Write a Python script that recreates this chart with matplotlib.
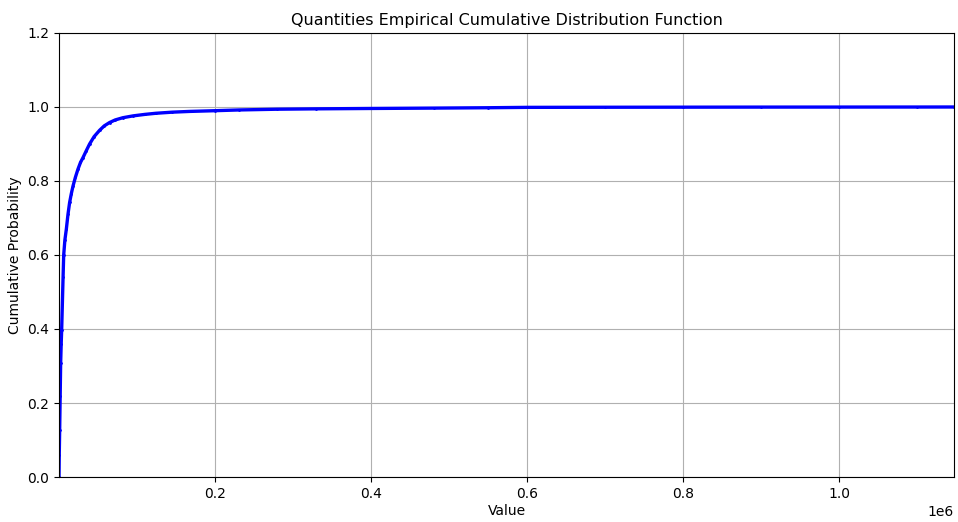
import matplotlib
matplotlib.use("Agg")
import matplotlib.pyplot as plt

# values (value, cumulative probability)
values = [1, 300, 850, 1500, 2100, 2800, 3400, 4300, 5200, 6000, 7500, 9400,
          11500, 13600, 15800, 17900, 21000, 24300, 27500, 30700, 35000, 39200,
          45000, 52000, 58000, 64800, 72000, 81800, 95000, 110000, 124000,
          145000, 167000, 200000, 231000, 280000, 330000, 400000, 480000,
          550000, 600000, 700000, 800000, 900000, 1000000, 1100000, 1147000]
probs = [0.0, 0.06, 0.127, 0.22, 0.307, 0.36, 0.397, 0.469, 0.54, 0.6, 0.64, 0.67,
         0.71, 0.742, 0.766, 0.786, 0.81, 0.832, 0.85, 0.863, 0.882, 0.9,
         0.92, 0.937, 0.949, 0.958, 0.965, 0.971, 0.976, 0.98, 0.983,
         0.986, 0.988, 0.99, 0.992, 0.994, 0.995, 0.996, 0.997,
         0.998, 0.999, 0.9993, 0.9995, 0.9997, 0.9998, 0.9999, 1.0]

fig = plt.figure(figsize=(9.58, 5.22), dpi=100)
ax = fig.add_axes([0.0616, 0.0862, 0.9342, 0.8506])

ax.plot(values, probs, color='blue', linewidth=2.4, marker='.', markersize=2)
ax.set_title('Quantities Empirical Cumulative Distribution Function', fontsize=11.5)
ax.set_xlabel('Value', fontsize=10, labelpad=2)
ax.set_ylabel('Cumulative Probability', fontsize=10)
ax.set_xlim(values[0], values[-1])
ax.set_ylim(0, 1.2)
ax.grid(True)

fig.savefig('out.png', dpi=100)
